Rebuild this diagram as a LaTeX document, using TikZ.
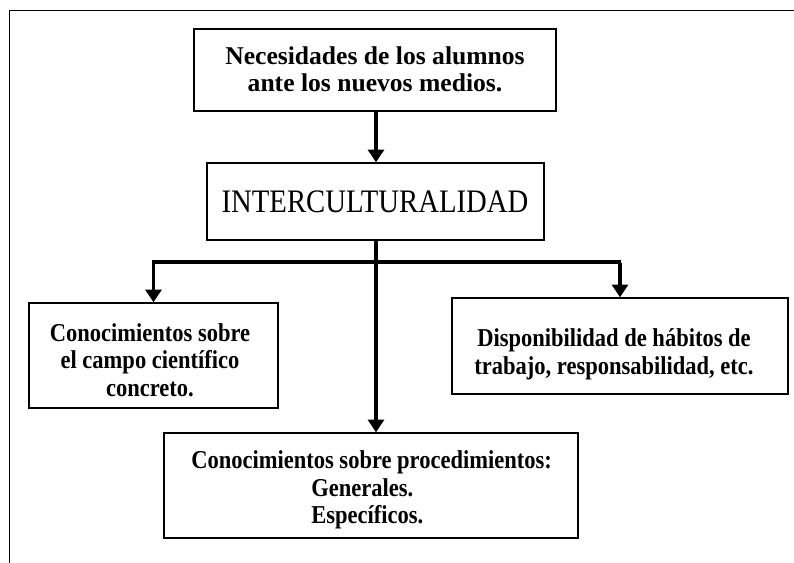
\documentclass[tikz,border=0pt]{standalone}
\usepackage{fontspec}
\setmainfont{Liberation Serif}
\newfontfamily\condserif[FakeStretch=0.875]{Liberation Serif}
\usetikzlibrary{arrows.meta}
\begin{document}
\begin{tikzpicture}[x=0.75pt,y=-0.75pt,
  boxnode/.style={draw,line width=1.1pt,inner sep=0pt},
  txt/.style={inner sep=0pt,align=center},
  conn/.style={line width=2.4pt},
  arr/.style={conn,-{Triangle[length=9.5pt,width=12pt]}},
  big/.style={font=\fontsize{19.2}{20.4}\selectfont\bfseries},
  small/.style={font=\condserif\fontsize{19.3}{20.8}\selectfont\bfseries}]
\useasboundingbox (0,0) rectangle (794,563);
% frame (top and left edges)
\draw[line width=0.8pt] (794,10.5) -- (9.5,10.5) -- (9.5,563);
% boxes
\node[boxnode,minimum width=362*0.75pt,minimum height=82*0.75pt] (top) at (375,70) {};
\node[boxnode,minimum width=337*0.75pt,minimum height=77*0.75pt] (inter) at (375.5,201.5) {};
\node[boxnode,minimum width=249*0.75pt,minimum height=105*0.75pt] (left) at (153.5,355.5) {};
\node[boxnode,minimum width=336*0.75pt,minimum height=96*0.75pt] (right) at (620,346) {};
\node[boxnode,minimum width=414*0.75pt,minimum height=105*0.75pt] (bottom) at (371,485.5) {};
% texts
\node[txt,big] (toptxt) at (375,69.5) {Necesidades de los alumnos\\ante los nuevos medios.};
\node[txt,font=\condserif\fontsize{24.6}{26}\selectfont] (intertxt) at (375,202) {INTERCULTURALIDAD};
\node[txt,small] (lefttxt) at (150,360) {Conocimientos sobre\\el campo científico\\concreto.};
\node[txt,small] (righttxt) at (614,354) {Disponibilidad de hábitos de\\trabajo, responsabilidad, etc.};
\node[txt,small,align=left,anchor=west] (bottomtxt) at (191,490)
  {Conocimientos sobre procedimientos:\\\hspace*{90pt}Generales.\\\hspace*{90pt}Específicos.};
% connectors
\coordinate (junc) at (inter.south |- 0,262);
\coordinate (jl) at (left.north |- junc);
\coordinate (jr) at (right.north |- junc);
\draw[arr] (top.south -| 376,0) -- (inter.north -| 376,0);
\draw[arr] (inter.south -| 376,0) -- (bottom.north -| 376,0);
\draw[conn] ([xshift=-1pt]jl) -- ([xshift=1pt]jr);
\draw[arr] ([yshift=-1pt]jl) -- (left.north);
\draw[arr] ([yshift=-1pt]jr) -- (right.north);
\end{tikzpicture}
\end{document}
